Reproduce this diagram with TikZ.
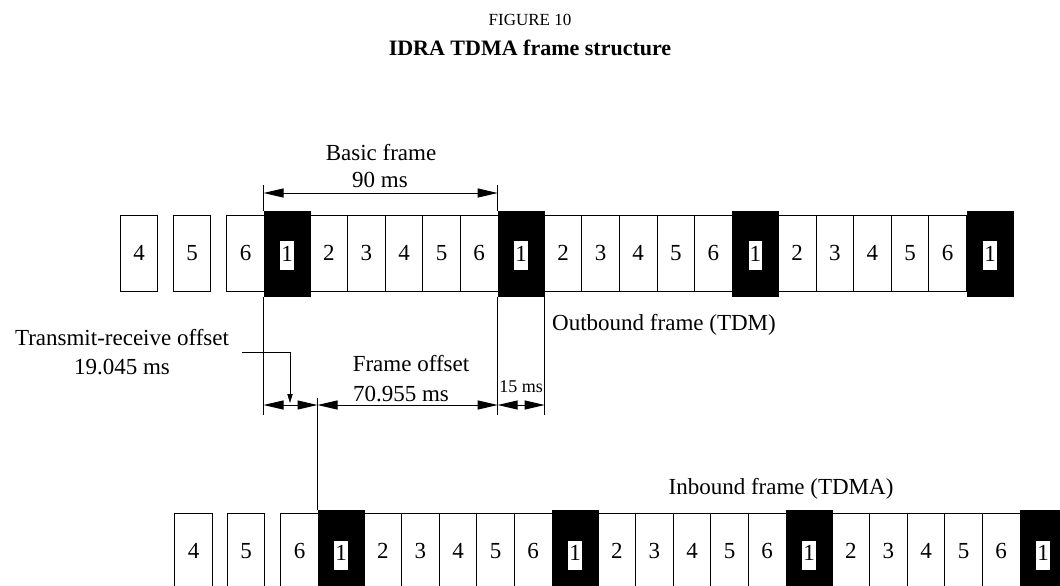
\documentclass[tikz,border=0pt]{standalone}
\usepackage{fontspec}
\setmainfont{Liberation Serif}
\usetikzlibrary{arrows.meta, positioning, calc}

\newcommand{\syncno}{\raisebox{-1.2pt}[\height][\depth]{\setlength{\fboxsep}{0.5pt}\colorbox{white}{\strut 1}}}

\begin{document}
\begin{tikzpicture}[x=0.5pt, y=-0.5pt, line width=0.5pt, font=\fontsize{11.5}{13.5}\selectfont,
  slot/.style={draw, minimum width=18.8pt, minimum height=38pt, inner sep=0pt},
  sync/.style={draw, fill=black, minimum width=23pt, minimum height=42.5pt, inner sep=0pt},
  dim/.style={{Triangle[length=10pt, width=4.5pt]}-{Triangle[length=10pt, width=4.5pt]}},
  lead/.style={-{Triangle[length=4.5pt, width=2.6pt]}},
  lbl/.style={inner sep=0pt}]
  \useasboundingbox (0,0) rectangle (1060,585);
  % title
  \node (fig) [lbl, font=\fontsize{8.5}{10}\selectfont] at (530,20) {FIGURE 10};
  \node (title) [lbl, font=\fontsize{11}{13}\selectfont\bfseries] at (530,48) {IDRA TDMA frame structure};

  % outbound frame (TDM)
  \node (o4) [slot] at (139,253) {4};
  \node (o5) [slot] at (192,253) {5};
  \node (o6) [slot] at (245.5,253) {6};
  \foreach \k in {0,1,2} {
    \node (ob\k) [sync] at ({287+234.2*\k},253.5) {\syncno};
    \foreach \s in {2,...,6}
      \node (os\k\s) [slot] at ({291.2+37.6*(\s-1)+234.2*\k},253) {\s};
  }
  \node (ob3) [sync] at (990,253.5) {\syncno};
  \node (outlbl) [lbl] at (664,325) {Outbound frame (TDM)};

  % inbound frame (TDMA)
  \node (i4) [slot] at (193.5,551) {4};
  \node (i5) [slot] at (246,551) {5};
  \node (i6) [slot] at (299.5,551) {6};
  \foreach \k in {0,1,2} {
    \node (ib\k) [sync] at ({341+234*\k},553) {\syncno};
    \foreach \s in {2,...,6}
      \node (is\k\s) [slot] at ({345.2+37.6*(\s-1)+234*\k},551) {\s};
  }
  \node (ib3) [sync] at (1043,553) {\syncno};
  \node (inlbl) [lbl] at (781,489) {Inbound frame (TDMA)};

  % basic frame
  \coordinate (bfl) at (ob0.north west |- 0,185);
  \coordinate (bfr) at (ob1.north west |- 0,185);
  \draw (ob0.north west) -- (bfl);
  \draw (ob1.north west) -- (bfr);
  \draw[dim] (bfl |- 0,193) -- (bfr |- 0,193);
  \node (bflbl) [lbl] at (381,153) {Basic frame};
  \node (bfval) [lbl] at (380,180) {90 ms};

  % offsets
  \coordinate (el) at (ob0.south west |- 0,415);
  \coordinate (em) at (ob1.south west |- 0,415);
  \coordinate (er) at (ob1.south east |- 0,415);
  \coordinate (ix) at (ib0.north west |- 0,398);
  \draw (ob0.south west) -- (el);
  \draw (ob1.south west) -- (em);
  \draw (ob1.south east) -- (er);
  \draw (ib0.north west) -- (ix);
  \draw[dim] (el |- 0,405) -- (ix |- 0,405);
  \draw[dim] (ix |- 0,405) -- (em |- 0,405);
  \draw[dim] (em |- 0,405) -- (er |- 0,405);

  \node (txoff) [align=center] at (122,352) {Transmit-receive offset\\[1pt]19.045 ms};
  \coordinate (txtip) at (290,403);
  \draw[lead] ([xshift=3pt]txoff.east) -| (txtip);
  \node (fo) [lbl] at (411,364) {Frame offset};
  \node (foval) [lbl] at (401,394) {70.955 ms};
  \node (sync15) [lbl, font=\fontsize{9}{11}\selectfont] at (521,387) {15 ms};
\end{tikzpicture}
\end{document}
